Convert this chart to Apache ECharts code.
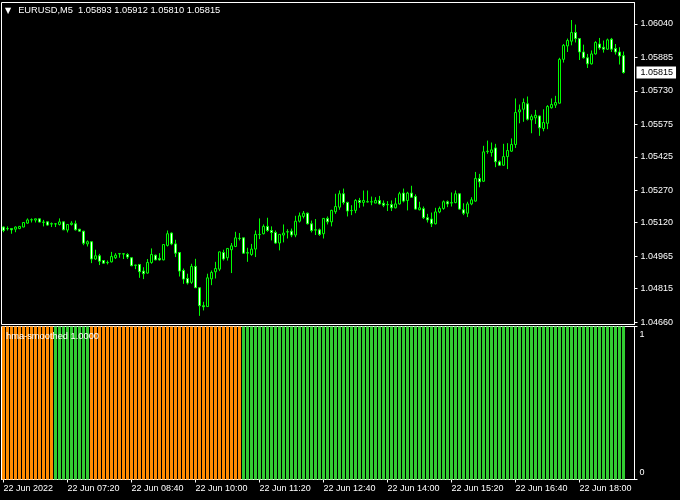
<!DOCTYPE html>
<html><head><meta charset="utf-8">
<script src="https://cdn.jsdelivr.net/npm/echarts@6/dist/echarts.min.js"></script>
<style>html,body{margin:0;padding:0;background:#000}#c{width:680px;height:500px}</style>
</head><body><div id="c"></div><script>
const symbol = 'EURUSD', timeframe = 'M5';

const openP = [
1.05100,1.05093,1.05093,1.05090,1.05093,1.05100,1.05118,1.05133,1.05132,1.05138,
1.05123,1.05124,1.05115,1.05114,1.05112,1.05124,1.05086,1.05112,1.05115,1.05090,
1.05081,1.05022,1.05032,1.04952,1.04967,1.04945,1.04936,1.04939,1.04958,1.04976,
1.04976,1.04973,1.04958,1.04924,1.04927,1.04896,1.04887,1.04936,1.04970,1.04955,
1.04948,1.05015,1.05072,1.05022,1.04982,1.04899,1.04862,1.04844,1.04918,1.04819,
1.04736,1.04732,1.04860,1.04893,1.04905,1.04982,1.04958,1.04995,1.05010,1.05047,
1.05050,1.04979,1.04973,1.04998,1.05066,1.05069,1.05103,1.05084,1.05075,1.05026,
1.05063,1.05078,1.05081,1.05063,1.05127,1.05149,1.05164,1.05115,1.05087,1.05087,
1.05069,1.05140,1.05124,1.05171,1.05192,1.05254,1.05214,1.05176,1.05177,1.05223,
1.05214,1.05217,1.05216,1.05211,1.05223,1.05210,1.05204,1.05204,1.05189,1.05207,
1.05257,1.05223,1.05257,1.05241,1.05180,1.05185,1.05143,1.05137,1.05115,1.05170,
1.05186,1.05217,1.05211,1.05213,1.05254,1.05180,1.05164,1.05207,1.05220,1.05325,
1.05312,1.05449,1.05445,1.05466,1.05402,1.05386,1.05426,1.05451,1.05482,1.05633,
1.05645,1.05670,1.05596,1.05605,1.05614,1.05556,1.05580,1.05652,1.05664,1.05673,
1.05876,1.05938,1.05960,1.06000,1.05972,1.05910,1.05883,1.05855,1.05901,1.05947,
1.05932,1.05923,1.05969,1.05926,1.05910,1.05893];

const highP = [
1.05103,1.05103,1.05094,1.05103,1.05105,1.05122,1.05140,1.05140,1.05139,1.05139,
1.05133,1.05126,1.05121,1.05118,1.05140,1.05126,1.05113,1.05127,1.05130,1.05091,
1.05082,1.05038,1.05033,1.04995,1.04976,1.04947,1.04945,1.04985,1.04979,1.04979,
1.04979,1.04979,1.04960,1.04925,1.04928,1.04914,1.04952,1.05001,1.04972,1.04979,
1.05021,1.05084,1.05075,1.05041,1.04984,1.04908,1.04884,1.04930,1.04953,1.04820,
1.04754,1.04884,1.04899,1.04939,1.04987,1.04995,1.05003,1.05026,1.05078,1.05072,
1.05051,1.05004,1.05022,1.05084,1.05140,1.05112,1.05143,1.05103,1.05084,1.05067,
1.05112,1.05090,1.05093,1.05152,1.05167,1.05174,1.05167,1.05130,1.05137,1.05093,
1.05141,1.05149,1.05180,1.05254,1.05269,1.05278,1.05217,1.05201,1.05229,1.05235,
1.05269,1.05269,1.05241,1.05238,1.05244,1.05223,1.05220,1.05223,1.05235,1.05263,
1.05278,1.05263,1.05291,1.05251,1.05217,1.05195,1.05161,1.05167,1.05189,1.05195,
1.05223,1.05223,1.05260,1.05269,1.05255,1.05210,1.05217,1.05238,1.05355,1.05346,
1.05476,1.05500,1.05491,1.05485,1.05408,1.05485,1.05488,1.05510,1.05695,1.05667,
1.05695,1.05704,1.05621,1.05642,1.05616,1.05645,1.05664,1.05695,1.05707,1.05883,
1.05947,1.05972,1.06058,1.06037,1.05974,1.05944,1.05901,1.05917,1.05960,1.05975,
1.05963,1.05972,1.05975,1.05947,1.05932,1.05912];

const lowP = [
1.05076,1.05084,1.05069,1.05076,1.05090,1.05099,1.05115,1.05121,1.05121,1.05122,
1.05103,1.05106,1.05100,1.05100,1.05107,1.05086,1.05075,1.05107,1.05084,1.05079,
1.05016,1.05010,1.04933,1.04948,1.04924,1.04931,1.04927,1.04936,1.04952,1.04958,
1.04952,1.04952,1.04919,1.04905,1.04865,1.04859,1.04884,1.04930,1.04946,1.04945,
1.04946,1.05010,1.05016,1.04961,1.04871,1.04837,1.04834,1.04837,1.04818,1.04689,
1.04714,1.04731,1.04831,1.04862,1.04896,1.04945,1.04945,1.04887,1.05007,1.05038,
1.04976,1.04939,1.04967,1.04961,1.05044,1.05066,1.05078,1.05038,1.05022,1.04992,
1.05029,1.05047,1.05053,1.05053,1.05121,1.05140,1.05112,1.05075,1.05063,1.05059,
1.05047,1.05112,1.05103,1.05161,1.05180,1.05204,1.05149,1.05155,1.05164,1.05189,
1.05195,1.05214,1.05201,1.05210,1.05204,1.05192,1.05174,1.05174,1.05186,1.05204,
1.05214,1.05177,1.05235,1.05180,1.05177,1.05137,1.05121,1.05100,1.05112,1.05164,
1.05180,1.05192,1.05195,1.05210,1.05180,1.05155,1.05146,1.05201,1.05217,1.05284,
1.05309,1.05439,1.05426,1.05377,1.05383,1.05383,1.05368,1.05448,1.05466,1.05580,
1.05587,1.05593,1.05534,1.05577,1.05522,1.05543,1.05553,1.05648,1.05651,1.05672,
1.05861,1.05910,1.05941,1.05954,1.05873,1.05880,1.05836,1.05852,1.05898,1.05920,
1.05907,1.05920,1.05910,1.05898,1.05852,1.05810];

const closeP = [
1.05084,1.05092,1.05087,1.05100,1.05103,1.05121,1.05133,1.05134,1.05138,1.05123,
1.05122,1.05109,1.05114,1.05115,1.05124,1.05087,1.05112,1.05118,1.05087,1.05081,
1.05025,1.05032,1.04952,1.04967,1.04942,1.04933,1.04935,1.04964,1.04970,1.04977,
1.04975,1.04961,1.04921,1.04923,1.04893,1.04884,1.04936,1.04973,1.04948,1.04948,
1.05019,1.05069,1.05022,1.04979,1.04896,1.04859,1.04841,1.04918,1.04819,1.04736,
1.04731,1.04865,1.04890,1.04908,1.04985,1.04952,1.05001,1.05013,1.05050,1.05048,
1.04979,1.04982,1.04998,1.05066,1.05065,1.05103,1.05084,1.05075,1.05026,1.05066,
1.05072,1.05077,1.05063,1.05127,1.05152,1.05164,1.05115,1.05084,1.05086,1.05066,
1.05140,1.05124,1.05177,1.05195,1.05254,1.05214,1.05174,1.05177,1.05223,1.05214,
1.05223,1.05216,1.05217,1.05223,1.05207,1.05201,1.05203,1.05189,1.05207,1.05254,
1.05220,1.05257,1.05238,1.05183,1.05189,1.05143,1.05133,1.05115,1.05170,1.05186,
1.05217,1.05207,1.05213,1.05254,1.05183,1.05164,1.05207,1.05226,1.05325,1.05309,
1.05448,1.05451,1.05457,1.05402,1.05386,1.05426,1.05454,1.05482,1.05630,1.05642,
1.05676,1.05599,1.05611,1.05617,1.05559,1.05584,1.05658,1.05667,1.05676,1.05876,
1.05941,1.05963,1.06000,1.05972,1.05910,1.05883,1.05855,1.05901,1.05954,1.05929,
1.05923,1.05966,1.05923,1.05910,1.05892,1.05815];

// hma-smoothed histogram: value and trend (1 = up / green, 0 = down / orange)
const hmaValue = [
1,1,1,1,1,1,1,1,1,1,1,1,1,1,1,1,1,1,1,1,
1,1,1,1,1,1,1,1,1,1,1,1,1,1,1,1,1,1,1,1,
1,1,1,1,1,1,1,1,1,1,1,1,1,1,1,1,1,1,1,1,
1,1,1,1,1,1,1,1,1,1,1,1,1,1,1,1,1,1,1,1,
1,1,1,1,1,1,1,1,1,1,1,1,1,1,1,1,1,1,1,1,
1,1,1,1,1,1,1,1,1,1,1,1,1,1,1,1,1,1,1,1,
1,1,1,1,1,1,1,1,1,1,1,1,1,1,1,1,1,1,1,1,
1,1,1,1,1,1,1,1,1,1,1,1,1,1,1,1];
const hmaTrend = [
0,0,0,0,0,0,0,0,0,0,0,0,0,1,1,1,1,1,1,1,
1,1,0,0,0,0,0,0,0,0,0,0,0,0,0,0,0,0,0,0,
0,0,0,0,0,0,0,0,0,0,0,0,0,0,0,0,0,0,0,0,
1,1,1,1,1,1,1,1,1,1,1,1,1,1,1,1,1,1,1,1,
1,1,1,1,1,1,1,1,1,1,1,1,1,1,1,1,1,1,1,1,
1,1,1,1,1,1,1,1,1,1,1,1,1,1,1,1,1,1,1,1,
1,1,1,1,1,1,1,1,1,1,1,1,1,1,1,1,1,1,1,1,
1,1,1,1,1,1,1,1,1,1,1,1,1,1,1,1];

// time-axis labels: one every 16 bars (80 minutes), starting at bar 0 (06:00)
const xTickLabels = ['22 Jun 2022','22 Jun 07:20','22 Jun 08:40','22 Jun 10:00','22 Jun 11:20',
  '22 Jun 12:40','22 Jun 14:00','22 Jun 15:20','22 Jun 16:40','22 Jun 18:00'];
const xTickEvery = 16;
const yTickLabels = ['1.04660','1.04815','1.04965','1.05120','1.05270','1.05425','1.05575','1.05730','1.05885','1.06040'];
const indTickLabels = ['0','1'];

// ---- build ----
const FONT = "'Liberation Sans', Arial, sans-serif";
const ORANGE = '#ff8c00', GREEN = '#32cd32', CANDLE = '#00ff00';
const Y_MIN = 1.04649, Y_MAX = 1.06139;
const X_MIN = -0.5, X_MAX = 157.75;   // bar-index range shown (incl. right shift)
const n = openP.length;
const last = n - 1;
const candles = openP.map((o, i) => [i, o, closeP[i], lowP[i], highP[i]]);
const yTickValues = yTickLabels.map(Number);
const xTickValues = xTickLabels.map((s, k) => k * xTickEvery);

const chart = echarts.init(document.getElementById('c'), null, {renderer: 'canvas'});
const txt = {color: '#fff', fontSize: 9, fontFamily: FONT, fontWeight: 'normal'};
const noZero = {onZero: false};
chart.setOption({
  backgroundColor: '#000',
  animation: false,
  textStyle: {fontFamily: FONT},
  title: [
    {left: 5, top: 6, padding: 0,
     text: '{t|▼}' + symbol + ',' + timeframe + '  ' + [openP[last], highP[last], lowP[last], closeP[last]].map(v => v.toFixed(5)).join(' '),
     textStyle: Object.assign({}, txt, {fontSize: 9.3, rich: {t: {fontSize: 8, color: '#fff', fontFamily: 'DejaVu Sans', padding: [0, 7, 0, 0]}}})},
    {left: 6, top: 332, padding: 0, text: 'hma-smoothed ' + hmaValue[last].toFixed(4), textStyle: Object.assign({}, txt, {fontSize: 9.3})}
  ],
  grid: [
    {left: 1.5, top: 2.5, width: 633, height: 322, show: true, borderColor: '#fff', borderWidth: 1, backgroundColor: '#000'},
    {left: 1.5, top: 326.5, width: 633, height: 153, show: true, borderColor: '#fff', borderWidth: 1, backgroundColor: '#000'}
  ],
  xAxis: [
    {type: 'value', gridIndex: 0, min: X_MIN, max: X_MAX, show: false, axisLine: {show: false, onZero: false}, splitLine: {show: false}},
    {type: 'value', gridIndex: 1, min: X_MIN, max: X_MAX, position: 'bottom',
     axisLine: {show: true, onZero: false, lineStyle: {color: '#fff'}},
     axisTick: {show: true, length: 3, customValues: xTickValues, lineStyle: {color: '#fff'}},
     axisLabel: {customValues: xTickValues, align: 'left', margin: 5, color: '#fff', fontSize: 9, fontFamily: FONT,
       formatter: v => xTickLabels[Math.round(v / xTickEvery)] || ''},
     splitLine: {show: false}}
  ],
  yAxis: [
    {type: 'value', gridIndex: 0, position: 'right', min: Y_MIN, max: Y_MAX,
     axisLine: {show: true, onZero: false, lineStyle: {color: '#fff'}},
     axisTick: {show: true, length: 3, customValues: yTickValues, lineStyle: {color: '#fff'}},
     axisLabel: {customValues: yTickValues, formatter: v => v.toFixed(5), color: '#fff', fontSize: 9, fontFamily: FONT, margin: 6},
     splitLine: {show: false}},
    {type: 'value', gridIndex: 1, position: 'right', min: 0, max: 1,
     axisLine: {show: true, onZero: false, lineStyle: {color: '#fff'}},
     axisTick: {show: true, length: 3, customValues: [0, 1], lineStyle: {color: '#fff'}},
     axisLabel: {customValues: [0.045, 0.95], formatter: v => indTickLabels[v > 0.5 ? 1 : 0], color: '#fff', fontSize: 9, fontFamily: FONT, margin: 5},
     splitLine: {show: false}},
    {type: 'value', gridIndex: 0, position: 'right', min: Y_MIN, max: Y_MAX,
     axisLine: {show: false, onZero: false}, axisTick: {show: false}, splitLine: {show: false},
     axisLabel: {customValues: [closeP[last]], formatter: v => v.toFixed(5), color: '#000', backgroundColor: '#fff',
       padding: [2, 3, 1, 4], fontSize: 9, fontFamily: FONT, margin: 2}}
  ],
  series: [
    {type: 'candlestick', xAxisIndex: 0, yAxisIndex: 0, data: candles, barWidth: 2,
     encode: {x: 0, y: [1, 2, 3, 4]},
     itemStyle: {color: '#000', color0: '#fff', borderColor: CANDLE, borderColor0: CANDLE, borderColorDoji: CANDLE, borderWidth: 1}},
    {type: 'bar', xAxisIndex: 1, yAxisIndex: 1, barWidth: 3,
     data: hmaValue.map((v, i) => ({value: [i, v], itemStyle: {color: hmaTrend[i] ? GREEN : ORANGE}}))}
  ]
});
</script></body></html>
